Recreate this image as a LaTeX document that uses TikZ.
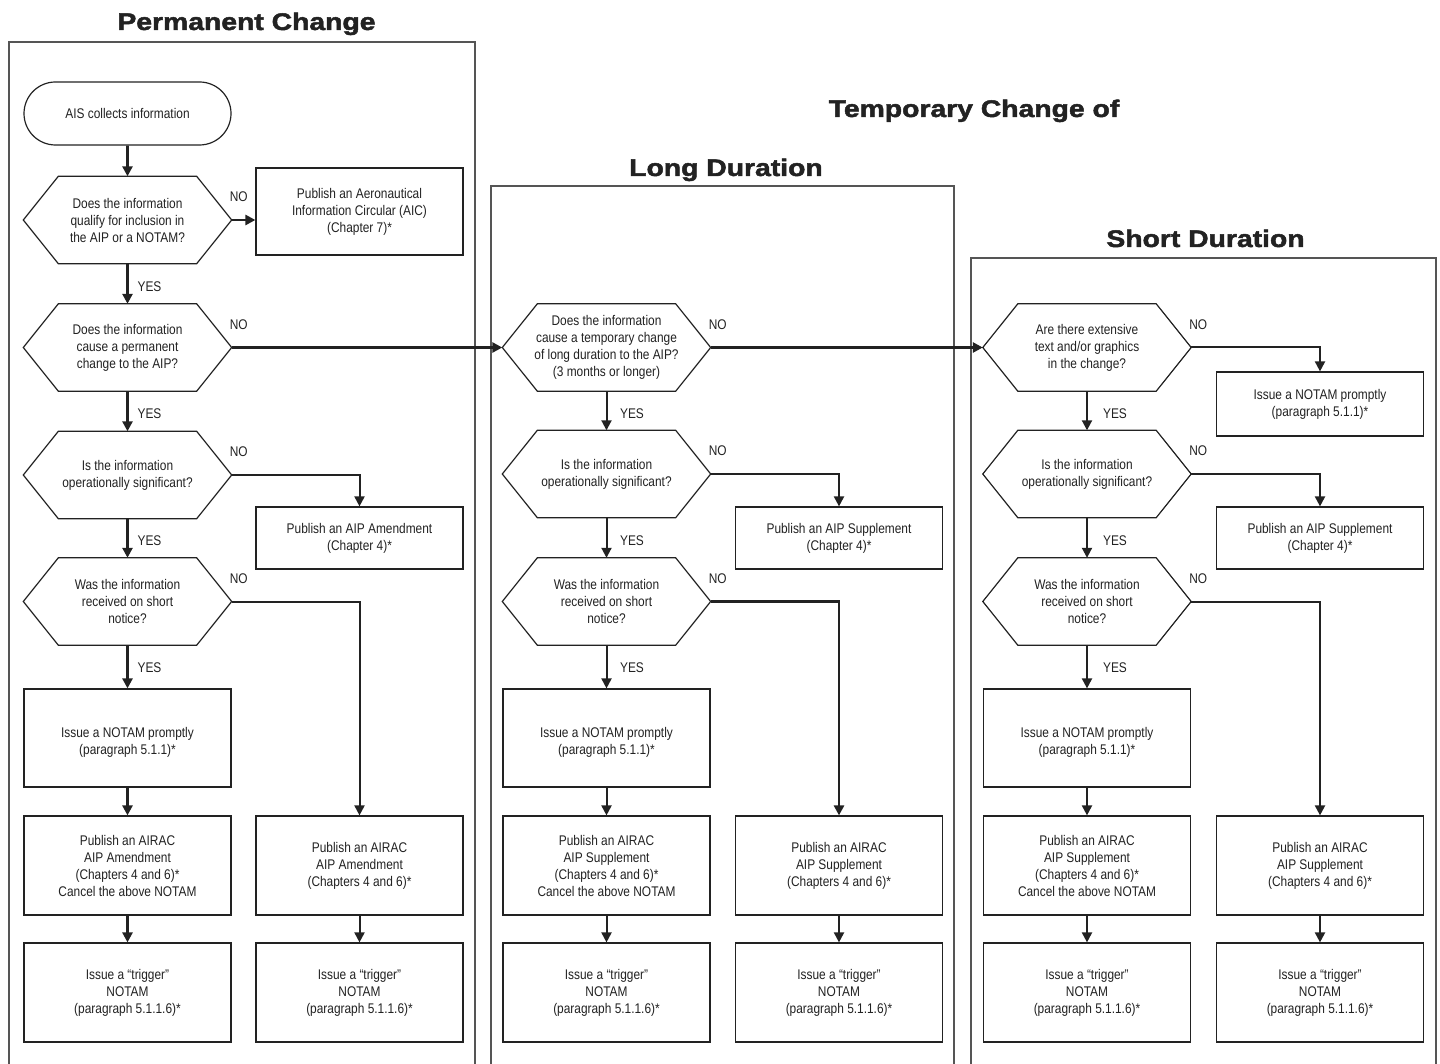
\documentclass[tikz,border=0pt]{standalone}
\usepackage{fontspec}
\setmainfont{Liberation Sans}[FakeStretch=0.85]
\newfontfamily\titlefont{Liberation Sans}[FakeStretch=1.18,FakeBold=2]
\usetikzlibrary{arrows.meta,shapes.misc,calc}
\definecolor{inkc}{HTML}{222222}
\definecolor{framec}{HTML}{555555}
\tikzset{
  txt/.style={font=\fontsize{14pt}{17pt}\selectfont, text=inkc, align=center, inner sep=0pt},
  procbox/.style={txt, draw=inkc, line width=1.2pt, rectangle, minimum width=207pt},
  hexbox/.style={txt, rectangle, minimum width=208pt, minimum height=87pt},
  hexline/.style={draw=inkc, line width=1.2pt, line join=miter},
  termbox/.style={txt, draw=inkc, line width=1.2pt, rounded rectangle, minimum width=207pt, minimum height=63pt},
  frameline/.style={draw=framec, line width=1.1pt},
  ttl/.style={font=\titlefont\bfseries\fontsize{24pt}{28pt}\selectfont, text=inkc, inner sep=0pt, anchor=base},
  lbl/.style={font=\fontsize{14pt}{17pt}\selectfont, text=inkc, inner sep=0pt},
  flow/.style={draw=inkc, line width=2pt, -{Triangle[length=10pt,width=10pt]}},
  flowthick/.style={draw=inkc, line width=2.8pt, -{Triangle[length=10pt,width=10pt]}},
  notambox/.style={procbox, minimum height=98pt, label={[txt,yshift=-4pt]center:Issue a NOTAM promptly\\(paragraph 5.1.1)*}},
}
\newcommand\hexq[3]{%
  \node[hexbox] (#1) at (#2) {#3};
  \draw[hexline] (#1.west) -- ([xshift=35pt]#1.north west) -- ([xshift=-35pt]#1.north east)
    -- (#1.east) -- ([xshift=-35pt]#1.south east) -- ([xshift=35pt]#1.south west) -- cycle;}
\begin{document}
\begin{tikzpicture}[x=1pt,y=-1pt]
\useasboundingbox[fill=white] (0,0) rectangle (1440,1064);
\clip (0,0) rectangle (1440,1064);

% panels
\draw[frameline] (9,1080) -- (9,42) -- (475,42) -- (475,1080);
\draw[frameline] (491,1080) -- (491,186) -- (954,186) -- (954,1080);
\draw[frameline] (971,1080) -- (971,258) -- (1436,258) -- (1436,1080);

% titles
\node[ttl] (tperm) at (246.5,30) {Permanent Change};
\node[ttl] (ttemp) at (974,117) {Temporary Change of};
\node[ttl] (tlong) at (726,176) {Long Duration};
\node[ttl] (tshort) at (1205.5,247) {Short Duration};

% ---------- Permanent ----------
\node[termbox] (ais) at (127.5,113.5) {AIS collects information};
\hexq{p1}{127.5,220}{Does the information\\qualify for inclusion in\\the AIP or a NOTAM?}
\node[procbox, minimum height=87pt] (aic) at (359.5,211.5) {Publish an Aeronautical\\Information Circular (AIC)\\(Chapter 7)*};
\hexq{p2}{127.5,347.5}{Does the information\\cause a permanent\\change to the AIP?}
\hexq{p3}{127.5,475}{Is the information\\operationally significant?}
\node[procbox, minimum height=62pt] (pamd) at (359.5,538) {Publish an AIP Amendment\\(Chapter 4)*};
\hexq{p4}{127.5,601.5}{Was the information\\received on short\\notice?}
\node[notambox] (pnot) at (127.5,738) {};
\node[procbox, minimum height=99pt] (pair1) at (127.5,865.5) {Publish an AIRAC\\AIP Amendment\\(Chapters 4 and 6)*\\Cancel the above NOTAM};
\node[procbox, minimum height=99pt] (pair2) at (359.5,865.5) {Publish an AIRAC\\AIP Amendment\\(Chapters 4 and 6)*};
\node[procbox, minimum height=99pt] (ptr1) at (127.5,992.5) {Issue a “trigger”\\NOTAM\\(paragraph 5.1.1.6)*};
\node[procbox, minimum height=99pt] (ptr2) at (359.5,992.5) {Issue a “trigger”\\NOTAM\\(paragraph 5.1.1.6)*};

% ---------- Long ----------
\hexq{l1}{606.5,347.5}{Does the information\\cause a temporary change\\of long duration to the AIP?\\(3 months or longer)}
\hexq{l2}{606.5,474}{Is the information\\operationally significant?}
\node[procbox, minimum height=62pt] (lsup) at (839,538) {Publish an AIP Supplement\\(Chapter 4)*};
\hexq{l3}{606.5,601.5}{Was the information\\received on short\\notice?}
\node[notambox] (lnot) at (606.5,738) {};
\node[procbox, minimum height=99pt] (lair1) at (606.5,865.5) {Publish an AIRAC\\AIP Supplement\\(Chapters 4 and 6)*\\Cancel the above NOTAM};
\node[procbox, minimum height=99pt] (lair2) at (839,865.5) {Publish an AIRAC\\AIP Supplement\\(Chapters 4 and 6)*};
\node[procbox, minimum height=99pt] (ltr1) at (606.5,992.5) {Issue a “trigger”\\NOTAM\\(paragraph 5.1.1.6)*};
\node[procbox, minimum height=99pt] (ltr2) at (839,992.5) {Issue a “trigger”\\NOTAM\\(paragraph 5.1.1.6)*};

% ---------- Short ----------
\hexq{s1}{1087,347.5}{Are there extensive\\text and/or graphics\\in the change?}
\node[procbox, minimum height=64pt] (snot1) at (1320,404) {Issue a NOTAM promptly\\(paragraph 5.1.1)*};
\hexq{s2}{1087,474}{Is the information\\operationally significant?}
\node[procbox, minimum height=62pt] (ssup) at (1320,538) {Publish an AIP Supplement\\(Chapter 4)*};
\hexq{s3}{1087,601.5}{Was the information\\received on short\\notice?}
\node[notambox] (snot) at (1087,738) {};
\node[procbox, minimum height=99pt] (sair1) at (1087,865.5) {Publish an AIRAC\\AIP Supplement\\(Chapters 4 and 6)*\\Cancel the above NOTAM};
\node[procbox, minimum height=99pt] (sair2) at (1320,865.5) {Publish an AIRAC\\AIP Supplement\\(Chapters 4 and 6)*};
\node[procbox, minimum height=99pt] (str1) at (1087,992.5) {Issue a “trigger”\\NOTAM\\(paragraph 5.1.1.6)*};
\node[procbox, minimum height=99pt] (str2) at (1320,992.5) {Issue a “trigger”\\NOTAM\\(paragraph 5.1.1.6)*};

% ---------- connectors: permanent ----------
\draw[flowthick] (ais) -- (p1);
\draw[flowthick] (p1.east) -- (p1.east -| aic.west);
\draw[flowthick] (p1) -- (p2);
\draw[flowthick] (p2.east) -- (l1.west);
\draw[flowthick] (p2) -- (p3);
\draw[flow] (p3.east) -| (pamd.north);
\draw[flowthick] (p3) -- (p4);
\draw[flow] (p4.east) -| (pair2.north);
\draw[flowthick] (p4) -- (pnot);
\draw[flowthick] (pnot) -- (pair1);
\draw[flowthick] (pair1) -- (ptr1);
\draw[flow] (pair2) -- (ptr2);

% ---------- connectors: long ----------
\draw[flowthick] (l1.east) -- (s1.west);
\draw[flow] (l1) -- (l2);
\draw[flow] (l2.east) -| (lsup.north);
\draw[flow] (l2) -- (l3);
\draw[flowthick] (l3.east) -| (lair2.north);
\draw[flow] (l3) -- (lnot);
\draw[flow] (lnot) -- (lair1);
\draw[flow] (lair1) -- (ltr1);
\draw[flow] (lair2) -- (ltr2);

% ---------- connectors: short ----------
\draw[flow] (s1.east) -| (snot1.north);
\draw[flow] (s1) -- (s2);
\draw[flow] (s2.east) -| (ssup.north);
\draw[flow] (s2) -- (s3);
\draw[flow] (s3.east) -| (sair2.north);
\draw[flow] (s3) -- (snot);
\draw[flow] (snot) -- (sair1);
\draw[flow] (sair1) -- (str1);
\draw[flow] (sair2) -- (str2);

% ---------- labels ----------
\foreach \h in {p1,p2,p3,p4,l1,l2,l3,s1,s2,s3}{
  \node[lbl] at ([xshift=7pt,yshift=23pt]\h.east) {NO};
}
\node[lbl] (y1) at (149.5,287) {YES};
\node[lbl] (y2) at (149.5,414) {YES};
\node[lbl] (y3) at (149.5,541) {YES};
\node[lbl] (y4) at (149.5,668) {YES};
\node[lbl] (y5) at (632,414) {YES};
\node[lbl] (y6) at (632,541) {YES};
\node[lbl] (y7) at (632,668) {YES};
\node[lbl] (y8) at (1115,414) {YES};
\node[lbl] (y9) at (1115,541) {YES};
\node[lbl] (y10) at (1115,668) {YES};
\end{tikzpicture}
\end{document}
